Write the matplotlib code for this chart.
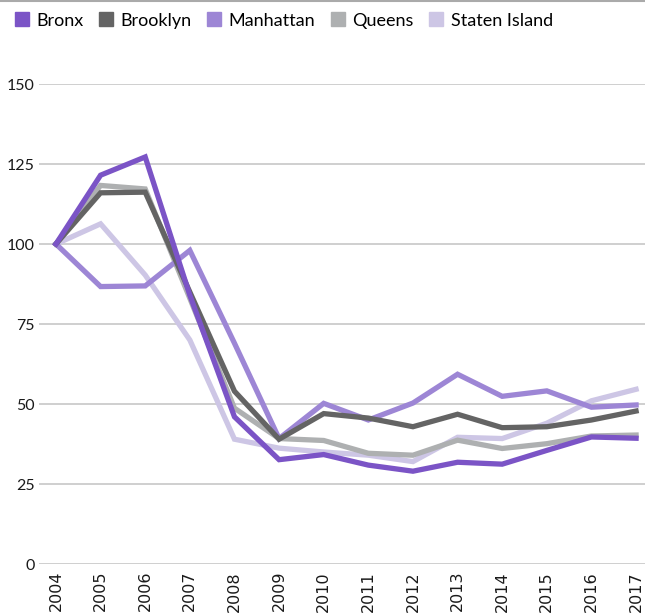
import matplotlib
matplotlib.use("Agg")
import matplotlib.pyplot as plt
from matplotlib.lines import Line2D

years = list(range(2004, 2018))
bronx = [100, 121.5, 127.2, 84, 46, 32.6, 34.2, 30.9, 29.0, 31.8, 31.2, 35.5, 39.7, 39.3]
brooklyn = [100, 116, 116.2, 85, 54, 39, 47, 45.6, 42.9, 46.8, 42.6, 42.9, 45, 47.8]
manhattan = [100, 86.7, 86.9, 98, 69, 39.2, 50.2, 45, 50.3, 59.3, 52.4, 54.1, 49, 49.7]
queens = [100, 118.3, 117.2, 83, 48.7, 39.2, 38.6, 34.6, 34, 38.7, 36.1, 37.6, 40, 40.3]
staten = [100, 106.3, 90.3, 70, 39, 36.2, 35, 34, 32, 39.6, 39.2, 44, 51, 54.6]

names = ["Bronx", "Brooklyn", "Manhattan", "Queens", "Staten Island"]
series = [bronx, brooklyn, manhattan, queens, staten]
colors = ["#7b54c6", "#646464", "#9d86d5", "#aeb0b1", "#cdc6e5"]
# drawing order: lightest underneath
order = [4, 3, 2, 1, 0]

plt.rcParams['font.family'] = ['Lato', 'DejaVu Sans']

fig = plt.figure(figsize=(6.45, 6.13), dpi=100)
ax = fig.add_axes([39 / 645, 49 / 613, 606 / 645, 480 / 613])

for i in order:
    ax.plot(years, series[i], color=colors[i], linewidth=3.8,
            solid_joinstyle='miter', zorder=3 + (4 - i))

ax.set_xlim(2003.62, 2017.2)
ax.set_ylim(0, 150)
ax.set_yticks([0, 25, 50, 75, 100, 125, 150])
ax.yaxis.grid(True, color="#cccccc", linewidth=1.3)
ax.set_axisbelow(True)
ax.set_xticks(years)
ax.set_xticklabels([str(y) for y in years], rotation=90, fontsize=11,
                   family='DejaVu Sans', va='top')
ax.tick_params(axis='both', length=0, colors="#1a1a1a", labelsize=11.5)
ax.tick_params(axis='y', pad=3)
ax.tick_params(axis='x', pad=5)
for s in ax.spines.values():
    s.set_visible(False)

# thin rule along the top edge
fig.add_artist(Line2D([0, 1], [0.999, 0.999], color="#aaaaaa", linewidth=1.5,
                      transform=fig.transFigure))

handles = [Line2D([], [], marker='s', linestyle='none', markersize=10,
                  color=c) for c in colors]
fig.legend(handles, names, loc='upper left', bbox_to_anchor=(0.003, 1.0),
           ncol=5, frameon=False, fontsize=13, handlelength=0.8,
           handletextpad=0.4, columnspacing=0.85, borderaxespad=0.3)

fig.savefig("out.png", dpi=100)
